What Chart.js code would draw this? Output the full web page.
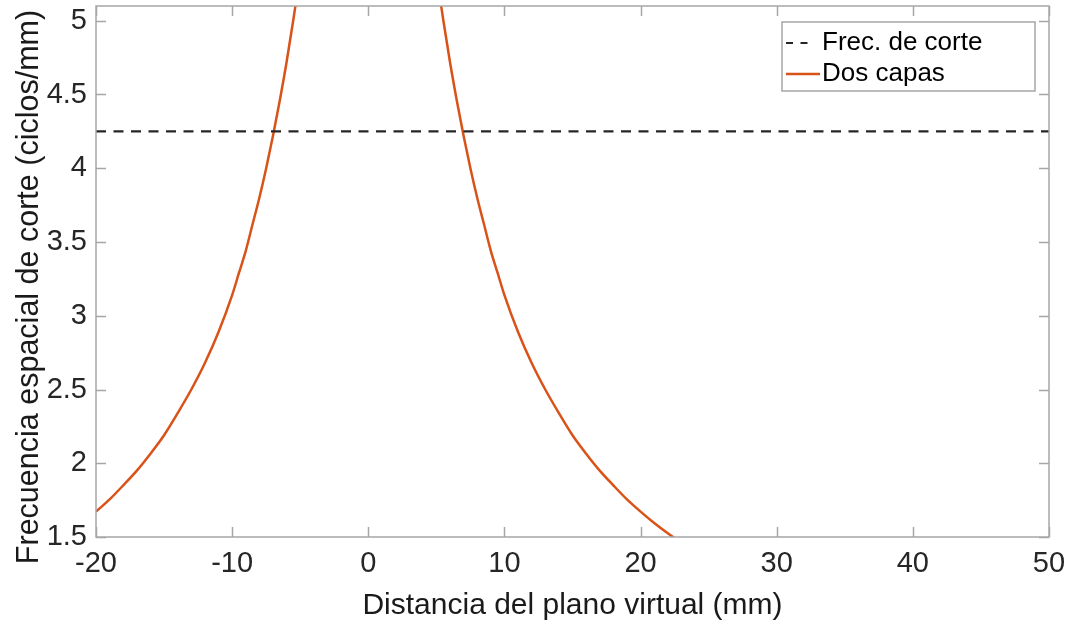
<!DOCTYPE html>
<html><head><meta charset="utf-8">
<script src="https://cdn.jsdelivr.net/npm/chart.js@4.4.1/dist/chart.umd.min.js"></script>
<style>html,body{margin:0;padding:0;background:#fff;} canvas{display:block;}</style>
</head><body>
<canvas id="c" width="1071" height="624"></canvas>
<script>
const xTicks = [-20, -10, 0, 10, 20, 30, 40, 50];
const xTickLabels = ['-20', '-10', '0', '10', '20', '30', '40', '50'];
const yTicks = [1.5, 2, 2.5, 3, 3.5, 4, 4.5, 5];
const yTickLabels = ['1.5', '2', '2.5', '3', '3.5', '4', '4.5', '5'];
const xTitle = 'Distancia del plano virtual (mm)';
const yTitle = 'Frecuencia espacial de corte (ciclos/mm)';

const cutoffLabel = 'Frec. de corte';
const cutoffX = [-20, 50];
const cutoffY = [4.25, 4.25];

const dosCapasLabel = 'Dos capas';
const dosCapasX = [-20, -19, -18, -17, -16, -15, -14, -13, -12, -11, -10, -9.5, -9, -8.5, -8, -7.5, -7, -6.5, -6, -5.5, -5,
  0,
  5, 5.5, 6, 6.5, 7, 7.5, 8, 8.5, 9, 9.5, 10, 11, 12, 13, 14, 15, 16, 17, 18, 19, 20, 21, 22, 23];
const dosCapasY = [1.672, 1.755, 1.85, 1.95, 2.065, 2.19, 2.34, 2.50, 2.68, 2.89, 3.14, 3.29, 3.44, 3.62, 3.80, 4.00, 4.22, 4.46, 4.72, 5.01, 5.32,
  null,
  5.32, 5.01, 4.72, 4.46, 4.22, 4.00, 3.80, 3.62, 3.44, 3.29, 3.14, 2.89, 2.68, 2.50, 2.34, 2.19, 2.065, 1.95, 1.85, 1.755, 1.672, 1.595, 1.525, 1.46];

const toXY = (xs, ys) => xs.map((v, i) => ({x: v, y: ys[i]}));

const AXIS_COLOR = '#a6a6a6';
const FONT = '"Liberation Sans", Arial, Helvetica, sans-serif';

const framePlugin = {
  id: 'frame',
  afterDatasetsDraw(chart) {
    const {ctx, chartArea: a, scales: {x, y}} = chart;
    ctx.save();
    ctx.strokeStyle = AXIS_COLOR;
    ctx.lineWidth = 1.5;
    ctx.beginPath();
    ctx.rect(a.left, a.top, a.right - a.left, a.bottom - a.top);
    const tl = 10;
    xTicks.forEach(v => {
      const px = Math.round(x.getPixelForValue(v)) + 0.5;
      ctx.moveTo(px, a.bottom); ctx.lineTo(px, a.bottom - tl);
      ctx.moveTo(px, a.top); ctx.lineTo(px, a.top + tl);
    });
    yTicks.forEach(v => {
      const py = Math.round(y.getPixelForValue(v)) + 0.5;
      ctx.moveTo(a.left, py); ctx.lineTo(a.left + tl, py);
      ctx.moveTo(a.right, py); ctx.lineTo(a.right - tl, py);
    });
    ctx.stroke();

    // y axis title
    ctx.save();
    ctx.translate(30, 287);
    ctx.rotate(-Math.PI / 2);
    ctx.fillStyle = '#1a1a1a';
    ctx.font = '30.5px ' + FONT;
    ctx.textAlign = 'center';
    ctx.textBaseline = 'middle';
    ctx.fillText(yTitle, 0, 0);
    ctx.restore();

    // legend box
    const lw = 253, lh = 69;
    const lx = a.right - 14 - lw, ly = a.top + 16;
    ctx.fillStyle = '#ffffff';
    ctx.fillRect(lx, ly, lw, lh);
    ctx.strokeStyle = AXIS_COLOR;
    ctx.lineWidth = 1.5;
    ctx.strokeRect(lx, ly, lw, lh);
    const rows = [ly + 21, ly + 52];
    chart.data.datasets.forEach((ds, i) => {
      const cy = rows[i];
      const dashed = ds.borderDash && ds.borderDash.length;
      ctx.beginPath();
      ctx.strokeStyle = ds.borderColor;
      ctx.lineWidth = ds.borderWidth;
      ctx.setLineDash(dashed ? [7, 7.5] : []);
      ctx.moveTo(lx + 4, cy); ctx.lineTo(lx + (dashed ? 27 : 38), cy);
      ctx.stroke();
      ctx.setLineDash([]);
      ctx.fillStyle = '#000000';
      ctx.font = '26px ' + FONT;
      ctx.textBaseline = 'middle';
      ctx.textAlign = 'left';
      ctx.fillText(ds.label, lx + 40, cy);
    });
    ctx.restore();
  }
};

new Chart(document.getElementById('c'), {
  type: 'line',
  data: {
    datasets: [
      {
        label: cutoffLabel,
        data: toXY(cutoffX, cutoffY),
        borderColor: '#262626',
        borderWidth: 2.2,
        borderDash: [10, 7.5],
        pointRadius: 0,
        fill: false
      },
      {
        label: dosCapasLabel,
        data: toXY(dosCapasX, dosCapasY),
        borderColor: '#d95319',
        borderWidth: 2.5,
        pointRadius: 0,
        fill: false,
        spanGaps: false,
        cubicInterpolationMode: 'monotone'
      }
    ]
  },
  options: {
    responsive: false,
    animation: false,
    devicePixelRatio: 1,
    clip: 0,
    layout: {padding: {left: 0, right: 22, top: 6, bottom: 0}},
    plugins: {legend: {display: false}, tooltip: {enabled: false}},
    scales: {
      x: {
        type: 'linear',
        min: -20, max: 50,
        afterBuildTicks: s => { s.ticks = xTicks.map(v => ({value: v})); },
        afterFit: s => { s.height = 87; s.paddingLeft = 0; s.paddingRight = 0; },
        grid: {display: false, drawTicks: false},
        border: {display: false},
        ticks: {
          autoSkip: false, maxRotation: 0, padding: 10,
          color: '#262626',
          font: {family: FONT, size: 29},
          callback: (v, i) => xTickLabels[i]
        },
        title: {
          display: true, text: xTitle, color: '#1a1a1a',
          font: {family: FONT, size: 30},
          padding: {top: 0, bottom: 0}
        }
      },
      y: {
        type: 'linear',
        min: 1.5, max: 5.1,
        afterBuildTicks: s => { s.ticks = yTicks.map(v => ({value: v})); },
        afterFit: s => { s.width = 96; s.paddingTop = 0; s.paddingBottom = 0; },
        grid: {display: false, drawTicks: false},
        border: {display: false},
        ticks: {
          autoSkip: false, padding: 9,
          color: '#262626',
          font: {family: FONT, size: 29},
          callback: (v, i) => yTickLabels[i]
        },
        title: {display: false}
      }
    }
  },
  plugins: [framePlugin]
});
</script>
</body></html>
